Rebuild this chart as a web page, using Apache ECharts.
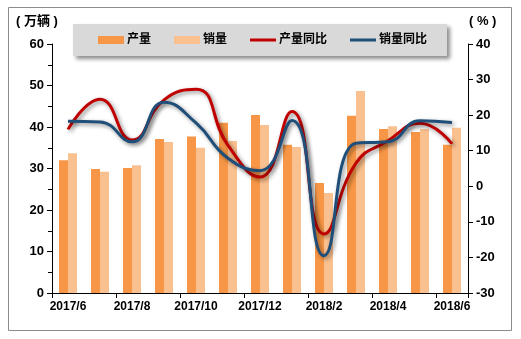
<!DOCTYPE html>
<html>
<head>
<meta charset="utf-8">
<script src="https://cdn.jsdelivr.net/npm/echarts@6/dist/echarts.min.js"></script>
<style>
  html, body { margin: 0; padding: 0; background: #fff; }
  #chart { width: 521px; height: 339px; }
</style>
</head>
<body>
<div id="chart"></div>
<script>
// Monthly output / sales (10k vehicles) and year-on-year growth (%)
const months = ['2017/6', '2017/7', '2017/8', '2017/9', '2017/10', '2017/11', '2017/12',
                '2018/1', '2018/2', '2018/3', '2018/4', '2018/5', '2018/6'];
const output = [32.0, 29.9, 30.1, 37.1, 37.7, 41.0, 42.9, 35.7, 26.5, 42.7, 39.5, 38.8, 35.7];
const sales = [33.7, 29.2, 30.8, 36.4, 35.0, 36.6, 40.5, 35.2, 24.1, 48.7, 40.2, 39.5, 39.8];
const outputYoY = [16.0, 24.5, 13.0, 24.3, 27.3, 11.5, 2.6, 21.0, -13.4, 6.5, 12.8, 17.7, 11.9];
const salesYoY = [18.3, 18.1, 12.5, 23.6, 17.8, 7.9, 4.4, 18.5, -19.5, 12.1, 12.5, 18.4, 17.9];

const names = ['产量', '销量', '产量同比', '销量同比'];
const colors = ['#F79646', '#FAC090', '#C00000', '#1F4E79'];

const FONT = "'Liberation Sans', 'Noto Sans CJK SC', sans-serif";
const lineIcon = 'path://M0,0L26,0L26,3L0,3Z';

const chart = echarts.init(document.getElementById('chart'), null, { renderer: 'canvas' });

const lineShadow = {
  shadowColor: 'rgba(0,0,0,0.45)',
  shadowBlur: 4,
  shadowOffsetX: 2,
  shadowOffsetY: 2
};

chart.setOption({
  animation: false,
  backgroundColor: '#fff',
  textStyle: { fontFamily: FONT },
  grid: { left: 52, right: 53, top: 44, bottom: 46, containLabel: false },
  graphic: [
    {
      type: 'rect',
      shape: { x: 8.5, y: 7.5, width: 503, height: 323 },
      style: { fill: 'none', stroke: '#8c8c8c', lineWidth: 1 },
      silent: true, z: -10
    },
    {
      type: 'text', left: 16, top: 15,
      style: { text: '( 万辆 )', font: 'bold 13px ' + FONT, fill: '#000' }
    },
    {
      type: 'text', left: 469, top: 15,
      style: { text: '( % )', font: 'bold 13px ' + FONT, fill: '#000' }
    }
  ],
  legend: {
    left: 73, top: 24,
    padding: [10, 20, 10, 25],
    backgroundColor: '#D9D9D9',
    shadowColor: 'rgba(0,0,0,0.45)',
    shadowBlur: 4,
    shadowOffsetX: 3,
    shadowOffsetY: 3,
    itemGap: 23,
    itemWidth: 26,
    itemHeight: 8,
    textStyle: { fontFamily: FONT, fontSize: 12, fontWeight: 'bold', color: '#000', padding: [0, 0, 0, -2] },
    data: [
      { name: names[0], icon: 'rect' },
      { name: names[1], icon: 'rect' },
      { name: names[2], icon: lineIcon },
      { name: names[3], icon: lineIcon }
    ]
  },
  xAxis: {
    type: 'category',
    data: months,
    boundaryGap: true,
    axisLine: { lineStyle: { color: '#000', width: 1 } },
    axisTick: { show: true, interval: 1, length: 5, lineStyle: { color: '#000' } },
    axisLabel: {
      interval: 1, margin: 8,
      fontFamily: FONT, fontSize: 12, fontWeight: 'bold', color: '#000'
    },
    splitLine: { show: false }
  },
  yAxis: [
    {
      type: 'value', min: 0, max: 60, interval: 10,
      axisLine: { show: true, lineStyle: { color: '#000', width: 1 } },
      axisTick: { show: true, length: 5, lineStyle: { color: '#000' } },
      minorTick: { show: true, splitNumber: 2, length: 4, lineStyle: { color: '#000' } },
      axisLabel: { margin: 8, fontFamily: FONT, fontSize: 13, fontWeight: 'bold', color: '#000' },
      splitLine: { show: false }
    },
    {
      type: 'value', min: -30, max: 40, interval: 10,
      axisLine: { show: true, lineStyle: { color: '#000', width: 1 } },
      axisTick: { show: true, length: 5, lineStyle: { color: '#000' } },
      axisLabel: { margin: 8, fontFamily: FONT, fontSize: 13, fontWeight: 'bold', color: '#000' },
      splitLine: { show: false }
    }
  ],
  series: [
    {
      name: names[0], type: 'bar', data: output, barWidth: 9, barGap: '0%',
      itemStyle: { color: colors[0] }, z: 2
    },
    {
      name: names[1], type: 'bar', data: sales, barWidth: 9, barGap: '0%',
      itemStyle: { color: colors[1] }, z: 2
    },
    {
      name: names[2], type: 'line', yAxisIndex: 1, data: outputYoY,
      smooth: 0.5, symbol: 'none', showSymbol: false,
      itemStyle: { color: colors[2] },
      lineStyle: Object.assign({ color: colors[2], width: 3 }, lineShadow), z: 4
    },
    {
      name: names[3], type: 'line', yAxisIndex: 1, data: salesYoY,
      smooth: 0.5, symbol: 'none', showSymbol: false,
      itemStyle: { color: colors[3] },
      lineStyle: Object.assign({ color: colors[3], width: 3 }, lineShadow), z: 5
    }
  ]
});
</script>
</body>
</html>
